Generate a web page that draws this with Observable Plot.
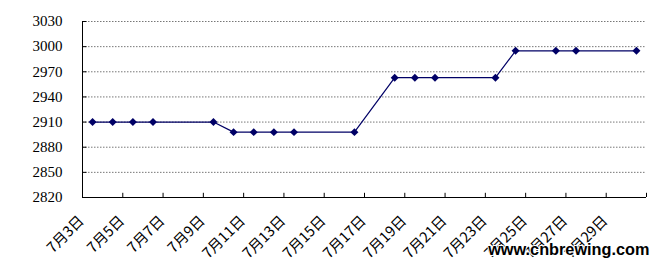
<!DOCTYPE html>
<html><head><meta charset="utf-8">
<script src="https://cdn.jsdelivr.net/npm/d3@7"></script>
<script src="https://cdn.jsdelivr.net/npm/@observablehq/plot@0.6"></script>
<style>
body{margin:0;background:#fff;}
#chart{position:relative;width:667px;height:268px;overflow:hidden;}
</style></head>
<body><div id="chart"></div>
<script>
// data (July, day of month -> price)
const days = [3,4,5,6,9,10,11,12,13,16,18,19,20,23,24,26,27,30];
const prices = [2910,2910,2910,2910,2910,2898,2898,2898,2898,2898,2963,2963,2963,2963,2995,2995,2995,2995];
const firstDay = 3, lastDay = 30;            // category range on the axis
const labelDays = [3,5,7,9,11,13,15,17,19,21,23,25,27,29];
const yTicks = [2820,2850,2880,2910,2940,2970,3000,3030];
const watermark = "www.cnbrewing.com";

const data = days.map((d,i)=>({day:d, price:prices[i]}));
const x0 = firstDay-0.5, x1 = lastDay+0.5;
const bounds = d3.range(x0, x1+0.01, 2);   // category boundaries every two days
const yMin = yTicks[0], yMax = yTicks[yTicks.length-1];
const tickLenX = 0.22, tickLenY = 5;

const gridRows = yTicks.slice(1).map(v=>({v, a:x0, b:x1}));
const yTickRows = yTicks.slice(1).map(v=>({v, a:x0, b:x0+tickLenX}));
const xTickRows = bounds.map(v=>({v, a:yMin, b:yMin+tickLenY}));

const plot = Plot.plot({
  width: 667, height: 268,
  marginLeft: 82, marginRight: 21, marginTop: 21, marginBottom: 71,
  style: {background:"#fff", overflow:"visible"},
  x: {type:"linear", domain:[x0, x1], label:null},
  y: {domain:[yMin, yMax], label:null},
  marks: [
    Plot.ruleY(gridRows, {y:"v", x1:"a", x2:"b", stroke:"#777", strokeDasharray:"1.5,1.5", strokeWidth:1}),
    Plot.ruleY(yTickRows, {y:"v", x1:"a", x2:"b", stroke:"#000"}),
    Plot.ruleX(xTickRows, {x:"v", y1:"a", y2:"b", stroke:"#000"}),
    Plot.ruleX([{v:x0, a:yMin, b:yMax}], {x:"v", y1:"a", y2:"b", stroke:"#000"}),
    Plot.ruleY([{v:yMin, a:x0, b:x1}], {y:"v", x1:"a", x2:"b", stroke:"#000"}),
    Plot.axisY({ticks:yTicks, tickSize:0, tickPadding:20, fontSize:15, fontFamily:"Liberation Serif", tickFormat:d=>String(d), color:"#000", label:null}),
    Plot.axisX({ticks:labelDays, tickSize:0, tickRotate:-45, tickPadding:14, dx:-11, dy:7, fontSize:14.5, fontFamily:"Noto Sans CJK SC", tickFormat:d=>`7月${d}日`, color:"#000", label:null}),
    Plot.line(data, {x:"day", y:"price", stroke:"#000066", strokeWidth:1.2}),
    Plot.dot(data, {x:"day", y:"price", symbol:"diamond2", r:3.6, fill:"#000066", stroke:"none"}),
    Plot.text([watermark], {frameAnchor:"bottom-right", dx:3, dy:57, text:d=>d, fontSize:16.3, fontWeight:"bold", fontFamily:"Liberation Sans", fill:"#000", stroke:"#fff", strokeWidth:2, paintOrder:"stroke", textAnchor:"end"})
  ]
});
document.getElementById("chart").appendChild(plot);
</script>
</body></html>
